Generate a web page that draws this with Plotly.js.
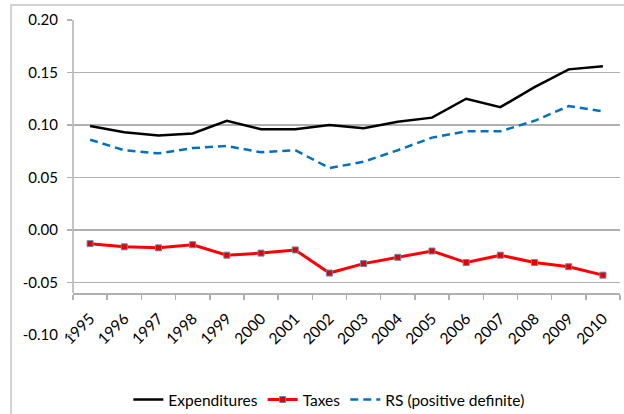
<!DOCTYPE html>
<html>
<head>
<meta charset="utf-8">
<script src="https://cdn.plot.ly/plotly-3.0.1.min.js"></script>
<style>
html,body{margin:0;padding:0;background:#fff;}
#chart{width:624px;height:414px;}
</style>
</head>
<body>
<div id="chart"></div>
<script>
var years = ["1995","1996","1997","1998","1999","2000","2001","2002","2003","2004","2005","2006","2007","2008","2009","2010"];
var expenditures = [0.099,0.093,0.090,0.092,0.104,0.096,0.096,0.100,0.097,0.103,0.107,0.125,0.117,0.136,0.153,0.156];
var taxes = [-0.013,-0.016,-0.017,-0.014,-0.024,-0.022,-0.019,-0.041,-0.032,-0.026,-0.020,-0.031,-0.024,-0.031,-0.035,-0.043];
var rs = [0.086,0.076,0.073,0.078,0.080,0.074,0.076,0.059,0.065,0.076,0.088,0.094,0.094,0.104,0.118,0.113];
var yTickVals = [-0.10,-0.05,0.00,0.05,0.10,0.15,0.20];
var yTickText = ["-0.10","-0.05","0.00","0.05","0.10","0.15","0.20"];
var seriesNames = ["Expenditures","Taxes","RS (positive definite)"];

var yMin = -0.10, yMax = 0.20, xCross = -0.06;
var font = "Lato, 'Open Sans', sans-serif";
var gridColor = "#b0b0b0";

var traces = [
  {x: years, y: expenditures, name: seriesNames[0], type: "scatter", mode: "lines",
   line: {color: "#000000", width: 2.5}},
  {x: years, y: taxes, name: seriesNames[1], type: "scatter", mode: "lines+markers",
   line: {color: "#ff0000", width: 3},
   marker: {symbol: "square", size: 6, color: "#e00000", line: {color: "#6a86b8", width: 1}}},
  {x: years, y: rs, name: seriesNames[2], type: "scatter", mode: "lines",
   line: {color: "#0070c0", width: 2.5, dash: "8px,5px"}}
];

var layout = {
  width: 624, height: 414,
  margin: {l: 73, r: 4, t: 20, b: 79, autoexpand: false},
  paper_bgcolor: "#ffffff", plot_bgcolor: "#ffffff",
  font: {family: font, size: 15, color: "#000"},
  showlegend: true,
  legend: {orientation: "h", xref: "container", yref: "container",
           x: 0.527, xanchor: "center", y: 0.034, yanchor: "middle",
           font: {family: font, size: 15.5, color: "#000"}, itemwidth: 30, tracegroupgap: 0},
  xaxis: {
    type: "category", range: [-0.5, 15.5],
    anchor: "free", position: (xCross - yMin) / (yMax - yMin),
    showline: true, linecolor: gridColor, linewidth: 1.5,
    ticks: "outside", tickson: "boundaries", ticklen: 5, tickcolor: gridColor, tickwidth: 1.5,
    tickangle: -45, showgrid: false, zeroline: false,
    ticklabelstandoff: 9,
    tickfont: {family: font, size: 15.5, color: "#000"}
  },
  yaxis: {
    range: [yMin, yMax], tickvals: yTickVals, ticktext: yTickText,
    showline: false, zeroline: false,
    showgrid: true, gridcolor: gridColor, gridwidth: 1.5,
    ticks: "outside", ticklen: 5, tickcolor: gridColor, tickwidth: 1.5,
    ticklabelstandoff: 6,
    tickfont: {family: font, size: 15, color: "#000"}
  },
  shapes: [
    {type: "line", xref: "paper", yref: "y", x0: 0, x1: 0, y0: xCross, y1: yMax,
     line: {color: gridColor, width: 1.5}, layer: "above"},
    {type: "rect", xref: "paper", yref: "paper", x0: -0.1133, x1: 1.02, y0: -0.3, y1: 1.0476,
     line: {color: "#c4c4c4", width: 1.5}, fillcolor: "rgba(0,0,0,0)", layer: "below"}
  ]
};

Plotly.newPlot("chart", traces, layout, {displayModeBar: false, staticPlot: true});
</script>
</body>
</html>
